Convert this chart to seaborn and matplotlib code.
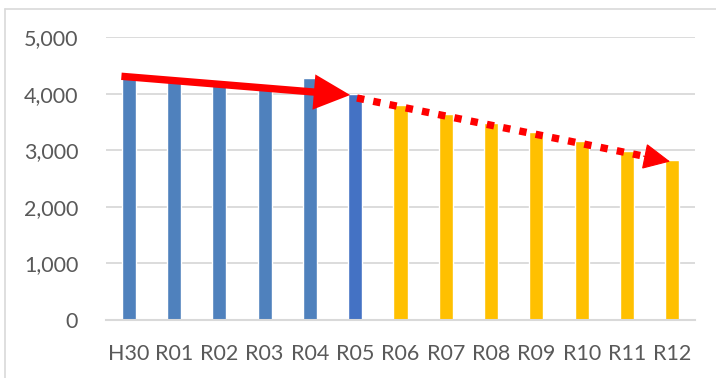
import matplotlib
matplotlib.use("Agg")
import matplotlib.pyplot as plt
from matplotlib.lines import Line2D
from matplotlib.ticker import FuncFormatter
import seaborn as sns
import pandas as pd

# Yearly figures: actual (H30-R05) and projected (R06-R12)
years = ["H30", "R01", "R02", "R03", "R04", "R05",
         "R06", "R07", "R08", "R09", "R10", "R11", "R12"]
values = [4350, 4230, 4160, 4100, 4270, 3990,
          3800, 3640, 3475, 3315, 3160, 2990, 2825]
bar_colors = ["#4F81BD"] * 5 + ["#4472C4"] + ["#FFC000"] * 7
y_ticks = [0, 1000, 2000, 3000, 4000, 5000]

# Trend arrows: actual decline (solid) and projected decline (dotted)
actual_trend_x = [-0.16, 4.89]
actual_trend_y = [4306, 3975]
projected_trend_x = [5.04, 11.95]
projected_trend_y = [3922, 2800]

df = pd.DataFrame({"year": years, "value": values})

sns.set_theme(style="white")
plt.rcParams["font.family"] = ["Lato", "DejaVu Sans"]

fig = plt.figure(figsize=(7.16, 3.78), dpi=100)
ax = fig.add_axes([106 / 716, 58 / 378, 589 / 716, 283 / 378])

sns.barplot(data=df, x="year", y="value", hue="year", palette=bar_colors,
            order=years, hue_order=years, legend=False, width=0.31,
            saturation=1, ax=ax, zorder=3)

ax.set_xlim(-0.5, len(years) - 0.5)
ax.set_ylim(0, 5000)
ax.set_yticks(y_ticks)
ax.yaxis.set_major_formatter(FuncFormatter(lambda v, _: f"{int(v):,}"))
ax.grid(axis="y", color="#D9D9D9", linewidth=1.3, zorder=0)
ax.set_xlabel("")
ax.set_ylabel("")
for side in ["top", "right", "left"]:
    ax.spines[side].set_visible(False)
ax.spines["bottom"].set_color("#D9D9D9")
ax.spines["bottom"].set_linewidth(1.5)
ax.spines["bottom"].set_zorder(4)
ax.tick_params(axis="y", length=0, pad=20, labelsize=15.5, labelcolor="#595959")
ax.tick_params(axis="x", length=0, pad=17, labelsize=15.5, labelcolor="#595959")

# Solid arrow over the actual years
ax.annotate("", xy=(actual_trend_x[1], actual_trend_y[1]),
            xytext=(actual_trend_x[0], actual_trend_y[0]),
            arrowprops=dict(arrowstyle="-|>,head_length=1.75,head_width=0.85",
                            mutation_scale=10, lw=5.3, color="#FF0000",
                            shrinkA=0, shrinkB=0, capstyle="butt",
                            joinstyle="miter"),
            zorder=5)

# Dotted line with arrowhead over the projected years
dx = projected_trend_x[1] - projected_trend_x[0]
dy = projected_trend_y[1] - projected_trend_y[0]
frac = 0.935
ax.plot([projected_trend_x[0], projected_trend_x[0] + dx * frac],
        [projected_trend_y[0], projected_trend_y[0] + dy * frac],
        color="#FF0000", lw=5.3, dashes=(1, 1.25), dash_capstyle="butt",
        zorder=5)
ax.annotate("", xy=(projected_trend_x[1], projected_trend_y[1]),
            xytext=(projected_trend_x[0] + dx * 0.915, projected_trend_y[0] + dy * 0.915),
            arrowprops=dict(arrowstyle="-|>,head_length=1.75,head_width=0.85",
                            mutation_scale=10, lw=0.8, color="#FF0000",
                            shrinkA=0, shrinkB=0, joinstyle="miter"),
            zorder=5)

# Chart frame (left and top edges)
fig.add_artist(Line2D([4.5 / 716, 4.5 / 716], [0, 1 - 8.5 / 378],
                      transform=fig.transFigure, color="#D9D9D9", lw=1.2))
fig.add_artist(Line2D([4.5 / 716, 1], [1 - 8.5 / 378, 1 - 8.5 / 378],
                      transform=fig.transFigure, color="#D9D9D9", lw=1.2))

fig.savefig("out.png", dpi=100)
